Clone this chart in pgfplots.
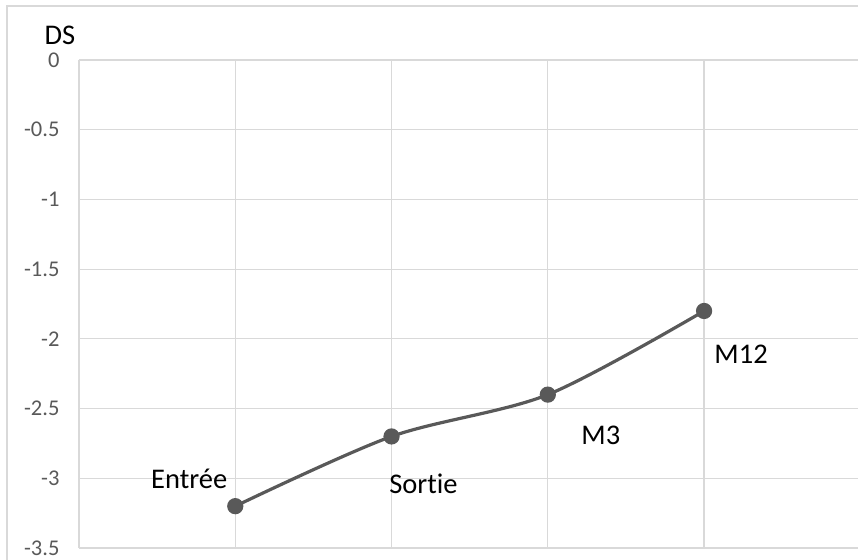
\documentclass[border=0pt]{standalone}
\usepackage{pgfplots}
\pgfplotsset{compat=1.18}
\usepackage{fontspec}
\setmainfont{Carlito}[Ligatures=CommonOff]
\definecolor{gridc}{HTML}{D9D9D9}
\definecolor{linec}{HTML}{595959}
\definecolor{tickc}{HTML}{595959}
\begin{document}
\begin{tikzpicture}
\begin{axis}[
  name=ax,
  scale only axis,
  width=779bp, height=488bp,
  xmin=0, xmax=4.985,
  ymin=-3.5, ymax=0,
  xtick={0,1,2,3,4},
  xticklabels={},
  ytick={-3.5,-3,-2.5,-2,-1.5,-1,-0.5,0},
  yticklabels={-3.5,-3,-2.5,-2,-1.5,-1,-0.5,0},
  major tick length=0pt,
  grid=major,
  grid style={gridc, line width=1.2bp},
  axis line style={draw=none},
  /pgf/number format/assume math mode=true,
  y tick label style={font=\fontsize{22.5bp}{25bp}\selectfont, text=tickc, anchor=east, xshift=-16bp},
  clip=false,
]
\addplot[linec, line width=3.2bp, smooth, tension=0.5, mark=*, mark size=6.5bp, mark options={fill=linec, draw=linec}]
  coordinates {(1,-3.2) (2,-2.7) (3,-2.4) (4,-1.8)};
\node[font=\fontsize{28.5bp}{31bp}\selectfont] at ([xshift=-19bp,yshift=25bp]rel axis cs:0,1) {DS};
\node[font=\fontsize{28.5bp}{31bp}\selectfont] at ([xshift=-46bp,yshift=27bp]axis cs:1,-3.2) {Entrée};
\node[font=\fontsize{28.5bp}{31bp}\selectfont] at ([xshift=32bp,yshift=-47bp]axis cs:2,-2.7) {Sortie};
\node[font=\fontsize{28.5bp}{31bp}\selectfont] at ([xshift=53bp,yshift=-41bp]axis cs:3,-2.4) {M3};
\node[font=\fontsize{28.5bp}{31bp}\selectfont] at ([xshift=37bp,yshift=-43bp]axis cs:4,-1.8) {M12};
\end{axis}
\draw[gridc, line width=1.5bp] ([xshift=-72bp,yshift=-20bp]ax.south west) -- ([xshift=-72bp,yshift=54bp]ax.north west) -- ([xshift=20bp,yshift=54bp]ax.north east);
\pgfresetboundingbox
\path[use as bounding box] ([xshift=-79bp,yshift=-12bp]ax.south west) rectangle ([yshift=60bp]ax.north east);
\end{tikzpicture}
\end{document}
